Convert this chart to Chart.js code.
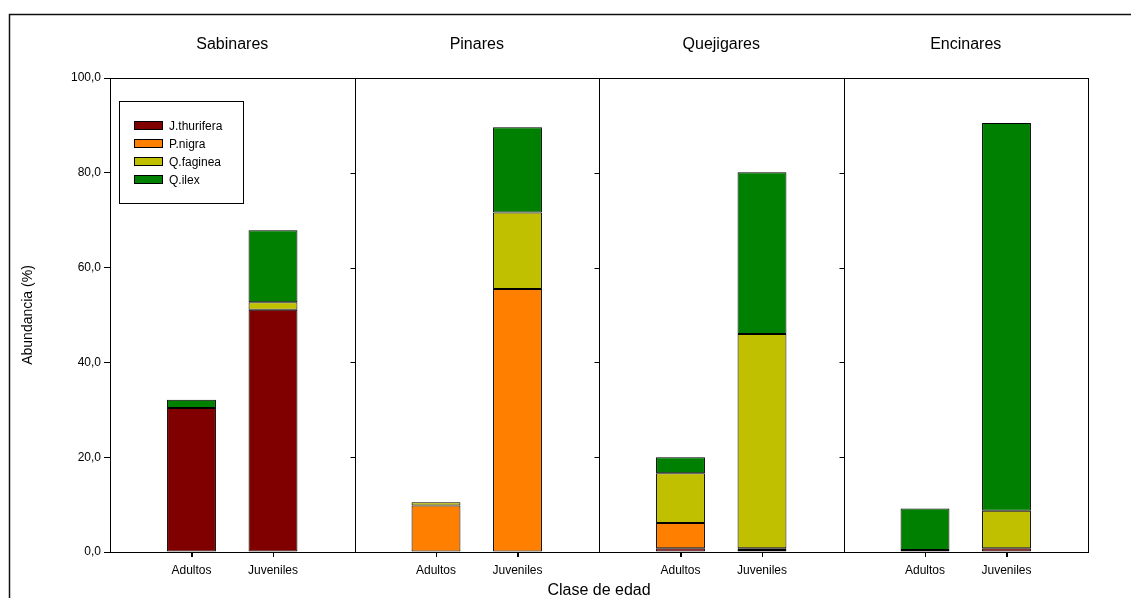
<!DOCTYPE html>
<html>
<head>
<meta charset="utf-8">
<script src="https://cdn.jsdelivr.net/npm/chart.js@4.4.1/dist/chart.umd.min.js"></script>
<style>
  html, body { margin: 0; padding: 0; background: #fff; overflow: hidden; }
  #wrap { position: relative; width: 1131px; height: 598px; }
</style>
</head>
<body>
<div id="wrap"><canvas id="c" width="1131" height="598"></canvas></div>
<script>
// Forest types (panels) and age classes (bars inside each panel)
const forests = ['Sabinares', 'Pinares', 'Quejigares', 'Encinares'];
const ageClasses = ['Adultos', 'Juveniles'];
const yTickValues = [0, 20, 40, 60, 80, 100];

// Abundance (%) per species, ordered: Sabinares A, J, Pinares A, J, Quejigares A, J, Encinares A, J
const jThurifera = [30.4, 51.1, 0.0, 0.0, 0.8, 0.4, 0.0, 0.8];
const pNigra     = [0.0, 0.0, 9.8, 55.5, 5.3, 0.4, 0.4, 0.0];
const qFaginea   = [0.0, 1.6, 0.7, 16.1, 10.5, 45.2, 0.0, 7.9];
const qIlex      = [1.7, 15.2, 0.0, 18.0, 3.4, 34.1, 8.8, 81.8];

const speciesNames  = ['J.thurifera', 'P.nigra', 'Q.faginea', 'Q.ilex'];
const speciesValues = [jThurifera, pNigra, qFaginea, qIlex];
const speciesColors = ['#800000', '#FF8000', '#C0C000', '#008000'];

const FONT = '"Liberation Sans", Arial, sans-serif';

// each forest occupies three x units; its two bars sit at 1 and 2 within it
const barX = [];
forests.forEach((f, i) => ageClasses.forEach((a, j) => barX.push(3 * i + 1 + j)));

const datasets = speciesNames.map((name, k) => ({
  label: name,
  data: speciesValues[k].map((v, i) => ({ x: barX[i], y: v > 0 ? v : null })),
  backgroundColor: speciesColors[k],
  borderColor: '#000',
  borderWidth: 1,
  borderSkipped: false,
  barPercentage: 0.6,
  categoryPercentage: 1.0
}));

const decor = {
  id: 'panelDecor',
  afterDraw(chart) {
    const ctx = chart.ctx;
    const area = chart.chartArea;
    const xs = chart.scales.x;
    const ys = chart.scales.y;
    ctx.save();

    // outer frame
    ctx.strokeStyle = '#111';
    ctx.lineWidth = 1.5;
    ctx.beginPath();
    ctx.moveTo(9.5, 598);
    ctx.lineTo(9.5, 14.5);
    ctx.lineTo(1131, 14.5);
    ctx.stroke();

    // plot box
    ctx.strokeStyle = '#000';
    ctx.lineWidth = 1;
    ctx.strokeRect(Math.round(area.left) + 0.5, Math.round(area.top) + 0.5,
                   Math.round(area.right - area.left), Math.round(area.bottom - area.top));

    // tick marks under each bar
    ctx.beginPath();
    barX.forEach(v => {
      const px = Math.round(xs.getPixelForValue(v)) + 0.5;
      ctx.moveTo(px, area.bottom);
      ctx.lineTo(px, area.bottom + 5);
    });
    ctx.stroke();

    // panel dividers with their inward ticks
    for (let i = 1; i < forests.length; i++) {
      const px = Math.round(xs.getPixelForValue(3 * i)) + 0.5;
      ctx.beginPath();
      ctx.moveTo(px, area.top);
      ctx.lineTo(px, area.bottom);
      yTickValues.forEach(v => {
        const py = Math.round(ys.getPixelForValue(v)) + 0.5;
        ctx.moveTo(px - 5, py);
        ctx.lineTo(px, py);
      });
      ctx.stroke();
    }

    // panel titles
    ctx.fillStyle = '#000';
    ctx.font = '16px ' + FONT;
    ctx.textAlign = 'center';
    ctx.textBaseline = 'middle';
    forests.forEach((f, i) => {
      ctx.fillText(f, xs.getPixelForValue(3 * i + 1.5), 45);
    });

    // axis titles
    ctx.fillText('Clase de edad', (area.left + area.right) / 2, 591);
    ctx.save();
    ctx.translate(28, (area.top + area.bottom) / 2);
    ctx.rotate(-Math.PI / 2);
    ctx.font = '14px ' + FONT;
    ctx.fillText('Abundancia (%)', 0, 0);
    ctx.restore();

    // legend box
    const lx = 119.5, ly = 101.5, lw = 124, lh = 102;
    ctx.fillStyle = '#fff';
    ctx.fillRect(lx, ly, lw, lh);
    ctx.strokeStyle = '#000';
    ctx.strokeRect(lx, ly, lw, lh);
    ctx.font = '12px ' + FONT;
    ctx.textAlign = 'left';
    speciesNames.forEach((name, k) => {
      const cy = 125.5 + k * 18;
      ctx.fillStyle = speciesColors[k];
      ctx.fillRect(134.5, cy - 4, 28, 8);
      ctx.strokeStyle = '#000';
      ctx.strokeRect(134.5, cy - 4, 28, 8);
      ctx.fillStyle = '#000';
      ctx.fillText(name, 169, cy + 1);
    });

    ctx.restore();
  }
};

new Chart(document.getElementById('c'), {
  type: 'bar',
  data: { datasets },
  options: {
    responsive: false,
    animation: false,
    devicePixelRatio: 1,
    layout: { padding: { top: 78, right: 43, left: 0, bottom: 0 } },
    plugins: { legend: { display: false }, tooltip: { enabled: false } },
    scales: {
      x: {
        type: 'linear',
        min: 0,
        max: 3 * forests.length,
        offset: false,
        stacked: true,
        afterFit: s => { s.height = 46; },
        afterBuildTicks: s => { s.ticks = barX.map(v => ({ value: v })); },
        ticks: {
          autoSkip: false,
          maxRotation: 0,
          padding: 6,
          color: '#000',
          font: { size: 12, family: FONT },
          callback: (v, i) => ageClasses[i % ageClasses.length]
        },
        grid: { offset: false, drawOnChartArea: false, drawTicks: true, tickLength: 5, color: '#000' },
        border: { display: true, color: '#000', width: 1 }
      },
      y: {
        min: 0,
        max: 100,
        stacked: true,
        afterFit: s => { s.width = 110; },
        afterBuildTicks: s => { s.ticks = yTickValues.map(v => ({ value: v })); },
        ticks: {
          padding: 3,
          color: '#000',
          font: { size: 12, family: FONT },
          callback: v => v.toFixed(1).replace('.', ',')
        },
        grid: { drawOnChartArea: false, drawTicks: true, tickLength: 6, color: '#000' },
        border: { display: true, color: '#000', width: 1 }
      }
    }
  },
  plugins: [decor]
});
</script>
</body>
</html>
